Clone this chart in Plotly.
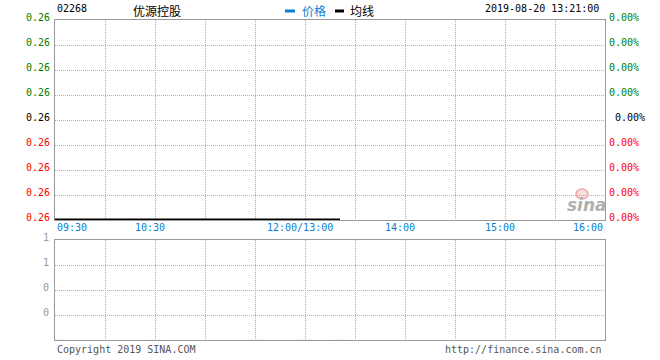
import plotly.graph_objects as go

# ---- data ----
code = "02268"
name = "优源控股"
timestamp = "2019-08-20 13:21:00"
times = ["09:30", "10:30", "11:30", "12:00", "13:00", "13:21"]
price = [0.26, 0.26, 0.26, 0.26, 0.26, 0.26]
avg_price = [0.26, 0.26, 0.26, 0.26, 0.26, 0.26]
volume = [0, 0, 0, 0, 0, 0]
left_labels = ["0.26"] * 9
right_labels = ["0.00%"] * 9
vol_labels = ["1", "1", "0", "0"]
x_labels = ["09:30", "10:30", "12:00/13:00", "14:00", "15:00", "16:00"]
x_label_times = ["09:30", "10:30", "12:00", "14:00", "15:00", "16:00"]


def tmin(t):
    h, m = map(int, t.split(":"))
    mins = h * 60 + m
    if mins <= 12 * 60:
        return mins - (9 * 60 + 30)
    return mins - 13 * 60 + 150


xs = [tmin(t) for t in times]

W, H = 660, 360
L, R, T, B = 55, 605, 20, 340
BLUE = "#0a7fd2"
GREEN = "#008000"
RED = "#ff0000"
GRAY = "#999999"
GRID = "#b0b0b0"
FONT = "DejaVu Sans Mono"

fig = go.Figure()
fig.add_trace(go.Scatter(x=xs, y=price, mode="lines", line=dict(color=BLUE, width=2),
                         xaxis="x", yaxis="y", showlegend=False))
fig.add_trace(go.Scatter(x=xs, y=avg_price, mode="lines", line=dict(color="#000000", width=3),
                         xaxis="x", yaxis="y", showlegend=False))
fig.add_trace(go.Bar(x=xs, y=volume, marker_color=BLUE, xaxis="x2", yaxis="y2", showlegend=False))

base = 0.26
step = 0.0001
main_ticks = [base + k * step for k in range(9)]
grid_x = list(range(0, 331, 30))

ax_common = dict(showline=True, linecolor=GRAY, linewidth=1, mirror=True,
                 showgrid=True, gridcolor=GRID, griddash="1px,1px", gridwidth=1,
                 zeroline=False, showticklabels=False, ticks="", fixedrange=True)

def py(pix):
    return (B - pix) / (B - T)

fig.update_layout(
    width=W, height=H,
    margin=dict(l=L, r=W - R, t=T, b=H - B),
    paper_bgcolor="white", plot_bgcolor="white",
    xaxis=dict(range=[0, 330], tickvals=grid_x, anchor="y", **ax_common),
    yaxis=dict(range=[base, base + 8 * step], tickvals=main_ticks,
               domain=[py(220), 1], anchor="x", **ax_common),
    xaxis2=dict(range=[0, 330], tickvals=grid_x, anchor="y2", **ax_common),
    yaxis2=dict(range=[0, 1], tickvals=[0.25, 0.5, 0.75, 1.0],
                domain=[0, py(240)], anchor="x2", **ax_common),
    bargap=0.5,
    hovermode=False,
)

ann = []

def px_x(p):
    return (p - L) / (R - L)

def txt(x, y, s, color="#000", size=10, xanchor="left", family=FONT, **kw):
    ann.append(dict(x=px_x(x), y=py(y), xref="paper", yref="paper", text=s,
                    showarrow=False, xanchor=xanchor, yanchor="middle",
                    font=dict(family=family, size=size, color=color), **kw))

# header
txt(55, 9, code, size=10)
txt(131, 10, name, size=12, family="Noto Sans CJK SC")
txt(300, 10, "价格", color=BLUE, size=12, family="Noto Sans CJK SC")
txt(348, 10, "均线", size=12, family="Noto Sans CJK SC")
txt(601, 9, timestamp, size=10, xanchor="right")

# main pane y labels
for i, (ll, rl) in enumerate(zip(left_labels, right_labels)):
    yy = 20 + 25 * i - 2.5
    c = GREEN if i < 4 else ("#000" if i == 4 else RED)
    txt(52, yy, ll, color=c, xanchor="right")
    txt(613 if i == 4 else 607, yy, rl, color=c)

# x labels
for lab, t in zip(x_labels, x_label_times):
    xx = L + tmin(t) * (R - L) / 330
    if lab == "09:30":
        txt(xx, 227.5, lab, color=BLUE, xanchor="left")
    elif lab == "16:00":
        txt(xx, 227.5, lab, color=BLUE, xanchor="right")
    else:
        txt(xx - 5, 227.5, lab, color=BLUE, xanchor="center")

# volume labels
for i, v in enumerate(vol_labels):
    txt(51, 240 + 25 * i - 2.5, v, color=GRAY, xanchor="right")

# footer
txt(55, 349, "Copyright 2019 SINA.COM", color="#555555")
txt(604, 349, "http://finance.sina.com.cn", color="#555555", xanchor="right")

# watermark
txt(587, 205, "<b><i>sina</i></b>", color="#b0b0b0", size=17, xanchor="center",
    family="DejaVu Sans")

fig.update_layout(annotations=ann)

shapes = [
    dict(type="line", xref="paper", yref="paper", x0=px_x(285), x1=px_x(295), y0=py(11), y1=py(11),
         line=dict(color=BLUE, width=3)),
    dict(type="line", xref="paper", yref="paper", x0=px_x(335), x1=px_x(344), y0=py(11), y1=py(11),
         line=dict(color="#000000", width=3)),
    dict(type="circle", xref="paper", yref="paper", x0=px_x(576), x1=px_x(588), y0=py(199), y1=py(189),
         line=dict(color="#f4a0a0", width=1.5), fillcolor="rgba(244,160,160,0.35)"),
]
fig.update_layout(shapes=shapes)

fig.write_html("out.html", config={"displayModeBar": False, "staticPlot": True},
               post_script="document.body.style.margin='0';document.body.style.overflow='hidden';")
